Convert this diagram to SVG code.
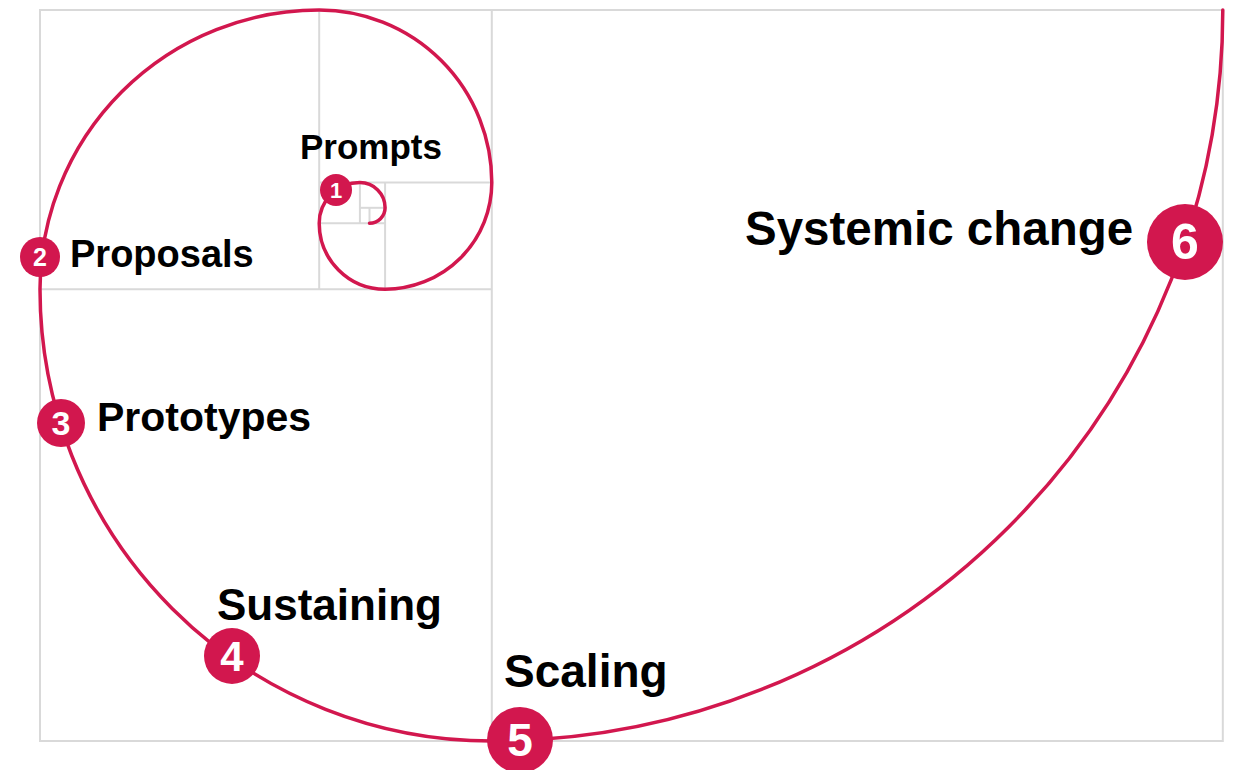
<svg xmlns="http://www.w3.org/2000/svg" width="1235" height="770" viewBox="0 0 1235 770">
<style>
.grid{fill:none;stroke:#d9d9d9;stroke-width:2}
.spiral{fill:none;stroke:#d2174e;stroke-width:3.5;stroke-linecap:round}
.dot{fill:#d2174e}
.num{fill:#fff;font-family:"Liberation Sans",Arial,sans-serif;font-weight:bold;text-anchor:middle}
.lbl{fill:#000;font-family:"Liberation Sans",Arial,sans-serif;font-weight:bold}
</style>
<rect width="1235" height="770" fill="#fff"/>
<g id="grid">
<rect class="grid" x="40" y="10" width="1182.8" height="731"/>
<line class="grid" x1="491.8" y1="10" x2="491.8" y2="741"/>
<line class="grid" x1="40" y1="289.2" x2="491.8" y2="289.2"/>
<line class="grid" x1="319.2" y1="10" x2="319.2" y2="289.2"/>
<line class="grid" x1="319.2" y1="182.6" x2="491.8" y2="182.6"/>
<line class="grid" x1="385.1" y1="182.6" x2="385.1" y2="289.2"/>
<line class="grid" x1="319.2" y1="223.3" x2="385.1" y2="223.3"/>
<line class="grid" x1="359.9" y1="182.6" x2="359.9" y2="223.3"/>
<line class="grid" x1="359.9" y1="207.8" x2="385.1" y2="207.8"/>
<line class="grid" x1="369.5" y1="207.8" x2="369.5" y2="223.3"/>
</g>
<g id="connectors">
<path class="spiral" d="M1222.8,10 A731,731 0 0 1 491.8,741 A451.8,451.8 0 0 1 40,289.2 A279.2,279.2 0 0 1 319.2,10 A172.6,172.6 0 0 1 491.8,182.6 A106.7,106.7 0 0 1 385.1,289.2 A65.9,65.9 0 0 1 319.2,223.3 A40.7,40.7 0 0 1 359.9,182.6 A25.2,25.2 0 0 1 385.1,207.8 A15.6,15.6 0 0 1 369.5,223.3"/>
</g>
<g id="node1">
<circle class="dot" cx="336" cy="190" r="16"/>
<text class="num" x="336" y="198" font-size="22">1</text>
<text class="lbl" x="300" y="159" font-size="35">Prompts</text>
</g>
<g id="node2">
<circle class="dot" cx="40" cy="257" r="20"/>
<text class="num" x="40" y="266" font-size="25">2</text>
<text class="lbl" x="70" y="267" font-size="38">Proposals</text>
</g>
<g id="node3">
<circle class="dot" cx="61" cy="423" r="24"/>
<text class="num" x="61" y="435" font-size="34">3</text>
<text class="lbl" x="97" y="431" font-size="41">Prototypes</text>
</g>
<g id="node4">
<circle class="dot" cx="232" cy="656" r="28"/>
<text class="num" x="232" y="671" font-size="42">4</text>
<text class="lbl" x="217" y="620" font-size="44">Sustaining</text>
</g>
<g id="node5">
<circle class="dot" cx="520" cy="740" r="33"/>
<text class="num" x="520" y="756" font-size="46">5</text>
<text class="lbl" x="504" y="687" font-size="46">Scaling</text>
</g>
<g id="node6">
<circle class="dot" cx="1185" cy="242" r="38"/>
<text class="num" x="1185" y="259" font-size="50">6</text>
<text class="lbl" x="745" y="245" font-size="47.5">Systemic change</text>
</g>
</svg>
